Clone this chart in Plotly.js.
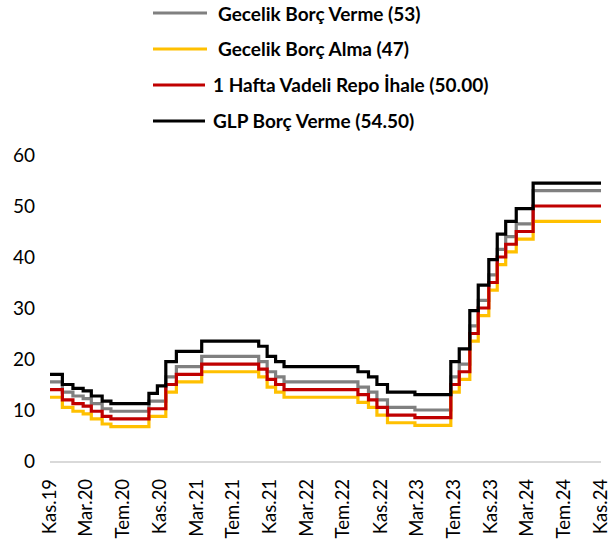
<!DOCTYPE html>
<html>
<head>
<meta charset="utf-8">
<script src="https://cdn.plot.ly/plotly-3.0.1.min.js"></script>
<style>html,body{margin:0;padding:0;background:#fff;}#chart{width:613px;height:544px;}</style>
</head>
<body>
<div id="chart"></div>
<script>
// Policy-rate change dates (step values hold until next date)
const dates = ['2019-11-01','2019-12-12','2020-01-16','2020-02-19','2020-03-17','2020-04-22','2020-05-21','2020-09-24','2020-10-22','2020-11-19','2020-12-24','2021-03-18','2021-09-23','2021-10-21','2021-11-18','2021-12-16','2022-08-18','2022-09-22','2022-10-20','2022-11-24','2023-02-23','2023-06-22','2023-07-20','2023-08-24','2023-09-21','2023-10-26','2023-11-23','2023-12-21','2024-01-25','2024-03-21','2024-11-01'];
const gecelikBorcVerme = [15.5,13.5,12.75,12.25,11.25,10.25,9.75,11.75,11.75,16.5,18.5,20.5,19.5,17.5,16.5,15.5,14.5,13.5,12,10.5,10,16.5,19,26.5,31.5,36.5,41.5,44,46.5,53,53];
const gecelikBorcAlma = [12.5,10.5,9.75,9.25,8.25,7.25,6.75,8.75,8.75,13.5,15.5,17.5,16.5,14.5,13.5,12.5,11.5,10.5,9,7.5,7,13.5,16,23.5,28.5,33.5,38.5,41,43.5,47,47];
const haftalikRepo = [14,12,11.25,10.75,9.75,8.75,8.25,10.25,10.25,15,17,19,18,16,15,14,13,12,10.5,9,8.5,15,17.5,25,30,35,40,42.5,45,50,50];
const glpBorcVerme = [17,15,14.25,13.75,12.75,11.75,11.25,13.25,14.75,19.5,21.5,23.5,22.5,20.5,19.5,18.5,17.5,16.5,15,13.5,13,19.5,22,29.5,34.5,39.5,44.5,47,49.5,54.5,54.5];

const seriesNames = ['Gecelik Borç Verme (53)','Gecelik Borç Alma (47)','1 Hafta Vadeli Repo İhale (50.00)','GLP Borç Verme (54.50)'];
const tickVals = ['2019-11-01','2020-03-01','2020-07-01','2020-11-01','2021-03-01','2021-07-01','2021-11-01','2022-03-01','2022-07-01','2022-11-01','2023-03-01','2023-07-01','2023-11-01','2024-03-01','2024-07-01','2024-11-01'];
const tickText = ['Kas.19','Mar.20','Tem.20','Kas.20','Mar.21','Tem.21','Kas.21','Mar.22','Tem.22','Kas.22','Mar.23','Tem.23','Kas.23','Mar.24','Tem.24','Kas.24'];

const colors = ['#808080','#FFC000','#C00000','#000000'];
const values = [gecelikBorcVerme, gecelikBorcAlma, haftalikRepo, glpBorcVerme];

const traces = values.map((v,i)=>({
  type:'scatter', mode:'lines', x:dates, y:v, name:seriesNames[i],
  line:{color:colors[i], width:3.2, shape:'hv'}, showlegend:false
}));

const family = 'Lato, "Noto Sans", sans-serif';
const font = {family:family, size:19, color:'#000'};

// plot area: left 50px, right 601px, top 155px, bottom 461px
const L = 50, W = 551, B = 461, H = 306;
const px = v => (v - L) / W;
const py = v => (B - v) / H;

// Legend drawn as key lines + text (paper coordinates)
const legYpx = [13, 49, 85, 121];
const legLineX1px = [207, 207, 205, 205];
const legTextXpx = [216, 216, 211, 211];
const shapes = seriesNames.map((n,i)=>({type:'line', xref:'paper', yref:'paper',
  x0:px(153), x1:px(legLineX1px[i]), y0:py(legYpx[i]), y1:py(legYpx[i]), line:{color:colors[i], width:3.2}}));
const annotations = seriesNames.map((n,i)=>({xref:'paper', yref:'paper', x:px(legTextXpx[i]), y:py(legYpx[i]),
  xanchor:'left', yanchor:'middle', text:n, showarrow:false,
  font:{family:family, size:19, color:'#000', weight:'bold'}}));

const layout = {
  width:613, height:544,
  margin:{l:L, r:613 - L - W, t:155, b:544 - B, autoexpand:false},
  paper_bgcolor:'#fff', plot_bgcolor:'#fff',
  font:font,
  showlegend:false,
  shapes:shapes, annotations:annotations,
  xaxis:{type:'date', range:['2019-11-01','2024-11-01'], tickmode:'array', tickvals:tickVals, ticktext:tickText,
    tickangle:-90, showgrid:false, zeroline:false, showline:true, linecolor:'#d9d9d9', linewidth:1.5,
    ticks:'', ticklabelstandoff:9, ticklabeloverflow:'allow', tickfont:{family:family, size:18.5, color:'#000'}},
  yaxis:{range:[0,60], dtick:10, tick0:0, showgrid:false, zeroline:false, showline:false,
    ticks:'', ticklabelstandoff:14, tickfont:font}
};

Plotly.newPlot('chart', traces, layout, {displayModeBar:false, staticPlot:true});
</script>
</body>
</html>
